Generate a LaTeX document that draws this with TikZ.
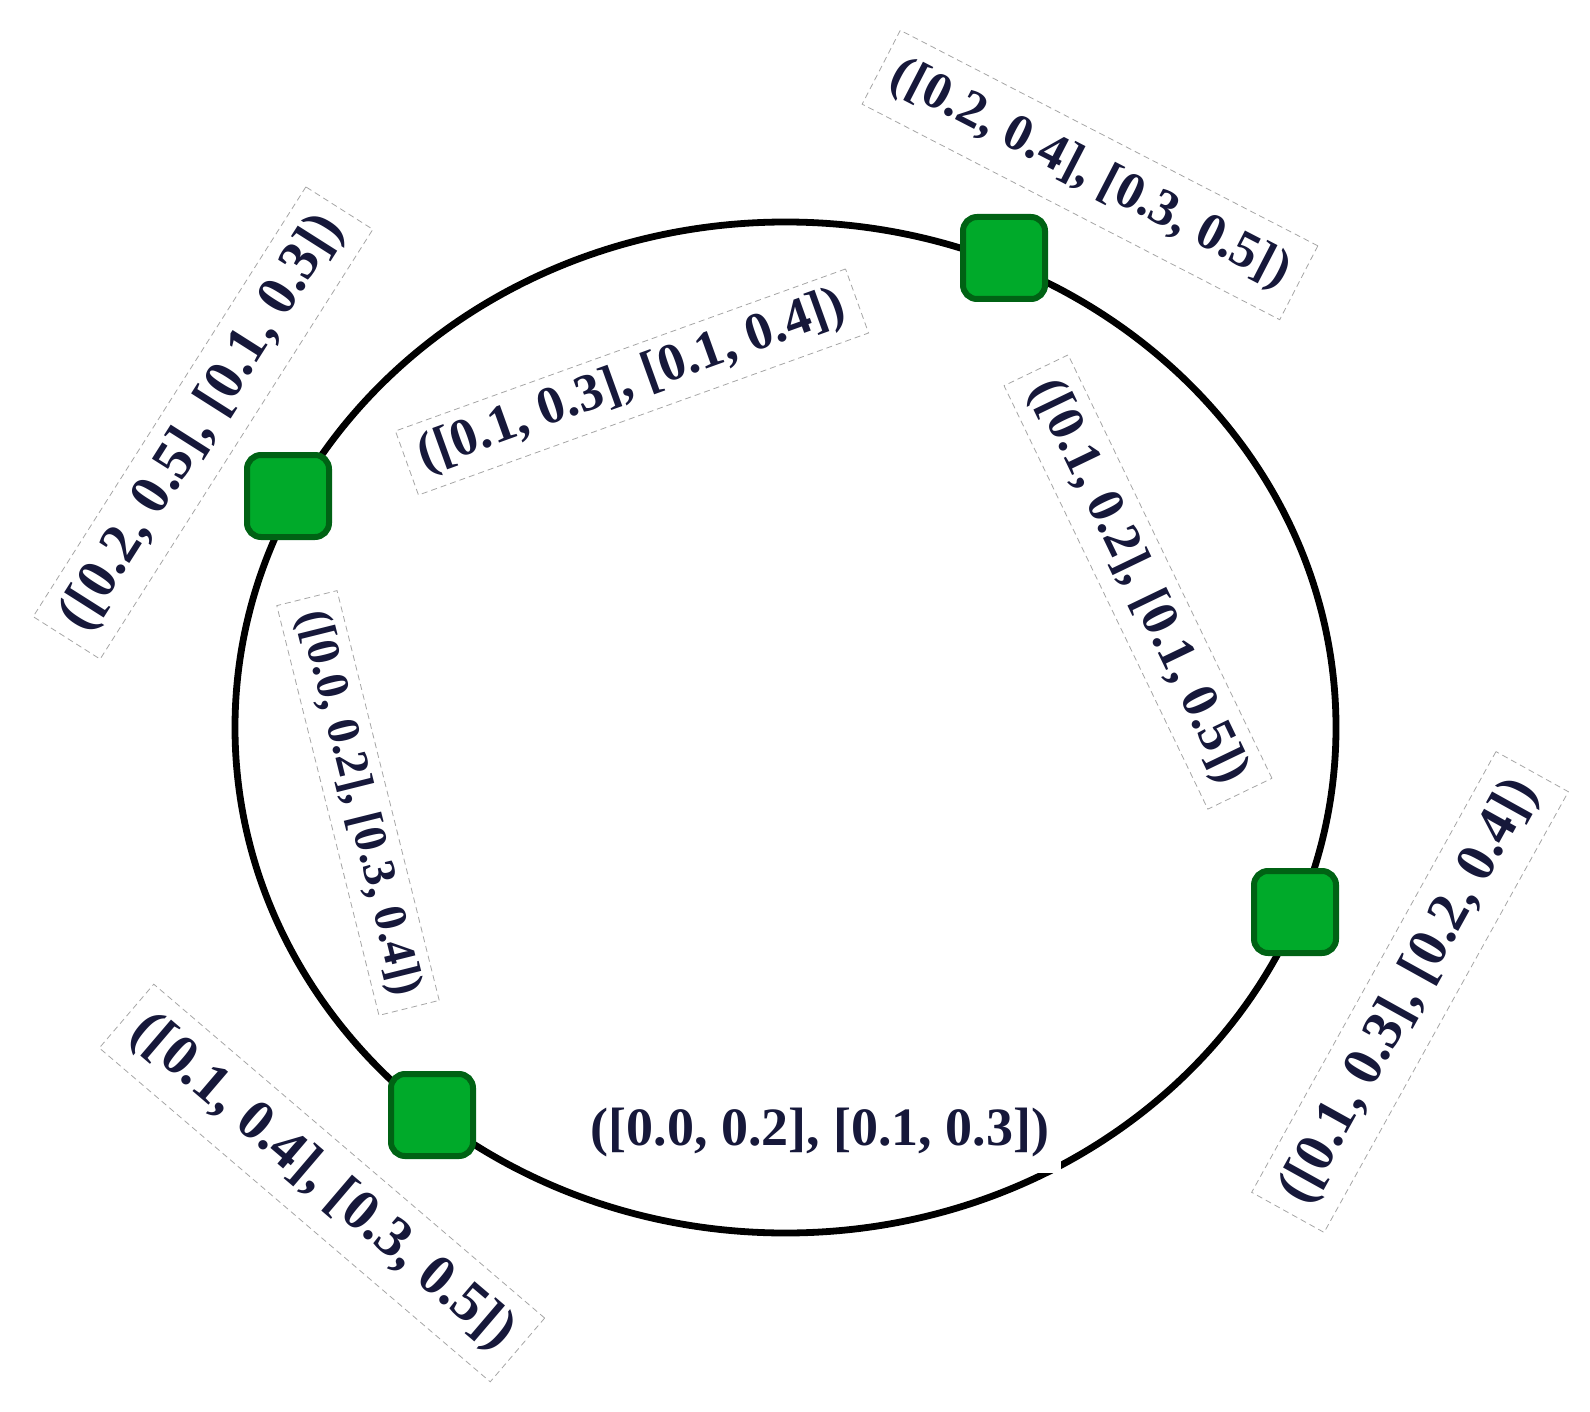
\documentclass[tikz,border=0pt]{standalone}
\usepackage{fontspec}
\setmainfont{Liberation Serif}
\usetikzlibrary{shapes.geometric}
\definecolor{sqfill}{RGB}{0,170,42}
\definecolor{sqdraw}{RGB}{0,98,20}
\definecolor{txt}{RGB}{22,24,58}
\begin{document}
\begin{tikzpicture}[x=0.5pt,y=-0.5pt,
  ring/.style={ellipse, draw=black, line width=3.4pt, inner sep=0pt,
    minimum width=550.5pt, minimum height=505.5pt},
  sq/.style={rectangle, rounded corners=7pt, draw=sqdraw, fill=sqfill,
    line width=3pt, minimum size=41pt, inner sep=0pt},
  lab/.style={rectangle, draw=gray!70, dash pattern=on 3pt off 2pt,
    line width=0.4pt, fill=white, text=txt, inner xsep=7pt, inner ysep=9pt,
    font=\bfseries},
  labn/.style={rectangle, fill=white, text=txt, inner xsep=6pt, inner ysep=8pt,
    font=\bfseries}
]
\useasboundingbox (0,0) rectangle (1590,1412);
\node[ring] (ring) at (785.5,727.5) {};
% labels
\node[lab, rotate=-27.3, font=\bfseries\fontsize{26}{30}\selectfont] (l1) at (1090,175) {([0.2, 0.4], [0.3, 0.5])};
\node[lab, rotate=19.8, inner ysep=5pt, font=\bfseries\fontsize{26.5}{30}\selectfont] (l2) at (632,382) {([0.1, 0.3], [0.1, 0.4])};
\node[lab, rotate=57.6, inner ysep=7pt, font=\bfseries\fontsize{28.3}{30}\selectfont] (l3) at (203,423) {([0.2, 0.5], [0.1, 0.3])};
\node[lab, rotate=-64.3, inner ysep=6pt, font=\bfseries\fontsize{26}{30}\selectfont] (l4) at (1138,582) {([0.1, 0.2], [0.1, 0.5])};
\node[lab, rotate=-76, inner ysep=5pt, font=\bfseries\fontsize{23.2}{28}\selectfont] (l5) at (358,803) {([0.0, 0.2], [0.3, 0.4])};
\node[labn, font=\bfseries\fontsize{27}{30}\selectfont] (l6) at (820,1133) {([0.0, 0.2], [0.1, 0.3])};
\node[lab, rotate=-40.5, inner ysep=8pt, font=\bfseries\fontsize{28.6}{30}\selectfont] (l7) at (322,1183) {([0.1, 0.4], [0.3, 0.5])};
\node[lab, rotate=61, inner ysep=8pt, font=\bfseries\fontsize{28}{30}\selectfont] (l8) at (1410,992) {([0.1, 0.3], [0.2, 0.4])};
% squares
\node[sq] (s1) at (1004,258) {};
\node[sq] (s2) at (288,496) {};
\node[sq] (s3) at (1295,912) {};
\node[sq] (s4) at (432,1115) {};
\end{tikzpicture}
\end{document}
